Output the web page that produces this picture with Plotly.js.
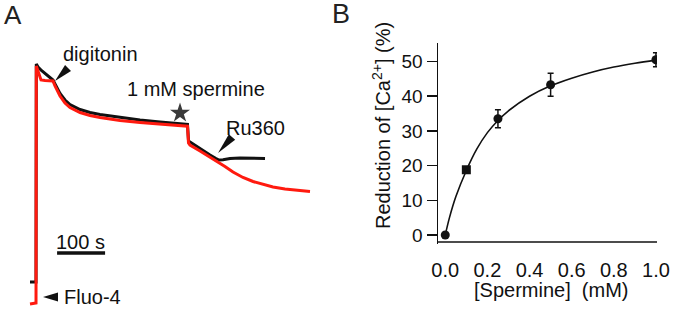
<!DOCTYPE html>
<html>
<head>
<meta charset="utf-8">
<script src="https://cdn.plot.ly/plotly-3.0.1.min.js"></script>
<style>html,body{margin:0;padding:0;background:#fff}#chart{width:673px;height:312px}</style>
</head>
<body>
<div id="chart"></div>
<script>
// ---------- Panel A : Fluo-4 traces (time in s, fluorescence in a.u.) ----------
const timeBlack = [-10.4, 2.1, 2.7, 6.3, 14.6, 22.9, 31.3, 37.5, 41.7, 52.1, 62.5, 72.9, 93.8, 114.6, 135.4, 177.1, 218.8, 260.4, 291.7, 317.7, 319.8, 322.9, 343.8, 364.6, 377.1, 383.3, 391.7, 406.3, 427.1, 452.1, 479.2];
const fluoBlack = [8.4, 8.4, 95.6, 94.4, 92.8, 91.6, 90.4, 89.2, 87.6, 83.8, 81.2, 79.4, 77.4, 76.2, 75.4, 74.2, 73.2, 72.4, 71.8, 71.4, 64.8, 64.4, 61.8, 59.2, 57.8, 57.2, 57.3, 57.8, 58.0, 58.0, 57.8];
const timeRed = [-10.4, 2.1, 2.7, 12.5, 20.8, 37.5, 41.7, 52.1, 62.5, 72.9, 93.8, 114.6, 135.4, 177.1, 218.8, 260.4, 291.7, 317.7, 319.8, 322.9, 343.8, 364.6, 379.2, 395.8, 412.5, 433.3, 454.2, 475.0, 495.8, 520.8, 545.8, 572.9];
const fluoRed = [-0.4, 0, 94.8, 89.2, 89.0, 88.8, 86.8, 82.8, 80.0, 78.2, 76.2, 75.0, 74.2, 73.0, 72.2, 71.5, 71.0, 70.7, 64.0, 63.2, 60.8, 58.4, 56.6, 54.6, 52.4, 50.2, 48.6, 47.4, 46.4, 45.6, 45.0, 44.6];
const eventLabels = ["digitonin", "1 mM spermine", "Ru360", "Fluo-4"];
const scaleBarSeconds = 100;

// ---------- Panel B : dose response ----------
const spermine = [0, 0.1, 0.25, 0.5, 1.0];
const reduction = [0, 18.8, 33.5, 43.3, 50.5];
const reductionErr = [0, 0.8, 2.6, 3.3, 2.0];
const fitX = [0, 0.02, 0.05, 0.1, 0.15, 0.2, 0.25, 0.3, 0.4, 0.5, 0.6, 0.7, 0.8, 0.9, 1.0];
const fitY = [0, 5.0, 11.0, 18.6, 24.8, 29.5, 33.0, 35.8, 40.0, 43.0, 45.2, 47.0, 48.4, 49.5, 50.4];
const xTickVals = [0, 0.2, 0.4, 0.6, 0.8, 1.0];
const xTickText = ["0.0", "0.2", "0.4", "0.6", "0.8", "1.0"];
const yTickVals = [0, 10, 20, 30, 40, 50];

const W = 673, H = 312;
const FONT = "Liberation Sans, Arial, Helvetica, sans-serif";
const INK = "#111111";

// panel A axis geometry
const axA = {domain: [0, 340 / W], range: [-72.917, 635.417]};
const ayA = {domain: [0, 1], range: [-3.6, 121.2]};
const pxPerT = (axA.domain[1] - axA.domain[0]) * W / (axA.range[1] - axA.range[0]);
const pxPerF = (ayA.domain[1] - ayA.domain[0]) * H / (ayA.range[1] - ayA.range[0]);

// panel B axis geometry
const axB = {domain: [438 / W, 657 / W], range: [-0.0345, 1.005]};
const ayB = {domain: [1 - 244 / H, 1 - 43 / H], range: [-2.594, 55.33]};
const pxPerR = (ayB.domain[1] - ayB.domain[0]) * H / (ayB.range[1] - ayB.range[0]);
const xLineVal = ayB.range[0] + 2 / pxPerR;          // x-axis line, 2 px above the domain bottom
const xTickVal = xLineVal - 5 / pxPerR;              // centre of 10 px outward tick

// wedge-shaped pointer: tip in data units, base offset & half width in px
function wedge(tipT, tipF, dx, dy, hw) {
  const len = Math.hypot(dx, dy);
  const px = -dy / len * hw, py = dx / len * hw;
  const pts = [[0, 0], [dx + px, dy + py], [dx - px, dy - py]];
  const d = pts.map((p, i) => (i ? "L" : "M") + (tipT + p[0] / pxPerT).toFixed(3) + "," + (tipF - p[1] / pxPerF).toFixed(3)).join(" ") + " Z";
  return {type: "path", xref: "x", yref: "y", path: d, fillcolor: INK, line: {width: 0}, layer: "above"};
}

const traces = [
  {x: timeBlack, y: fluoBlack, xaxis: "x", yaxis: "y", mode: "lines", line: {color: INK, width: 3}, hoverinfo: "skip"},
  {x: timeRed, y: fluoRed, xaxis: "x", yaxis: "y", mode: "lines", line: {color: "#ff1a0f", width: 3}, hoverinfo: "skip"},
  {x: [302.1], y: [76], xaxis: "x", yaxis: "y", mode: "markers", marker: {symbol: "star", size: 15, color: "#3a3a3a"}, hoverinfo: "skip"},
  // x axis line and ticks of panel B (on the x2 scale)
  {x: [axB.range[0], axB.range[1]], y: [xLineVal, xLineVal], xaxis: "x2", yaxis: "y2", mode: "lines", line: {color: INK, width: 1.5}, hoverinfo: "skip"},
  {x: xTickVals, y: xTickVals.map(() => xTickVal), xaxis: "x2", yaxis: "y2", mode: "markers", cliponaxis: false,
   marker: {symbol: "line-ns", size: 10, color: INK, line: {color: INK, width: 1.5}}, hoverinfo: "skip"},
  {x: fitX, y: fitY, xaxis: "x2", yaxis: "y2", mode: "lines", line: {color: INK, width: 1.6, shape: "spline"}, hoverinfo: "skip"},
  {x: spermine, y: reduction, xaxis: "x2", yaxis: "y2", mode: "markers",
   marker: {symbol: ["circle", "square", "circle", "circle", "circle"], size: 9, color: INK},
   error_y: {type: "data", array: reductionErr, visible: true, color: INK, thickness: 1.5, width: 3}}
];

const annFont = {family: FONT, size: 20, color: INK};
function label(text, xref, yref, x, y, extra) {
  return Object.assign({text: text, xref: xref, yref: yref, x: x, y: y, xanchor: "center", yanchor: "middle", showarrow: false, font: annFont}, extra || {});
}
const blankAxis = {showline: false, showgrid: false, zeroline: false, ticks: "", showticklabels: false, fixedrange: true};

const layout = {
  width: W, height: H,
  margin: {l: 0, r: 0, t: 0, b: 0},
  paper_bgcolor: "#fff", plot_bgcolor: "rgba(0,0,0,0)",
  showlegend: false,
  xaxis: Object.assign({domain: axA.domain, range: axA.range, anchor: "y"}, blankAxis),
  yaxis: Object.assign({domain: ayA.domain, range: ayA.range, anchor: "x"}, blankAxis),
  xaxis2: {domain: axB.domain, range: axB.range, anchor: "y2",
    showline: false, ticks: "outside", ticklen: 8, tickwidth: 1.5, tickcolor: "rgba(0,0,0,0)",
    tickvals: xTickVals, ticktext: xTickText, showgrid: false, zeroline: false,
    tickfont: {family: FONT, size: 20, color: INK}},
  yaxis2: {domain: ayB.domain, range: ayB.range, anchor: "x2",
    showline: true, linecolor: INK, linewidth: 1.5, ticks: "outside", ticklen: 10, tickwidth: 1.5, tickcolor: INK,
    tickvals: yTickVals, showgrid: false, zeroline: false,
    tickfont: {family: FONT, size: 19, color: INK}},
  shapes: [
    {type: "line", xref: "x", yref: "y", x0: 46, x1: 46 + scaleBarSeconds, y0: 20, y1: 20, line: {color: INK, width: 3.5}},
    wedge(41.7, 88.8, 13, -13, 4.2),
    wedge(381.3, 60, 14, -16, 4.2),
    wedge(16.7, 2.4, 15, 0, 4.5)
  ],
  annotations: [
    label("A", "paper", "paper", 13 / W, 1 - 15 / H, {font: {family: FONT, size: 26, color: "#222"}}),
    label("B", "paper", "paper", 341 / W, 1 - 14 / H, {font: {family: FONT, size: 27, color: "#222"}}),
    label(eventLabels[0], "x", "y", 136.5, 99.7),
    label(eventLabels[1], "x", "y", 335.8, 85.6),
    label(eventLabels[2], "x", "y", 460.4, 70),
    label(eventLabels[3], "x", "y", 119.8, 2.3),
    label(scaleBarSeconds + " s", "x", "y", 93.75, 24.4),
    label("Reduction of [Ca<sup>2+</sup>] (%)", "paper", "paper", 381 / W, 1 - 126 / H, {textangle: -90}),
    label("[Spermine]\u00a0\u00a0(mM)", "paper", "paper", 551 / W, 1 - 290 / H)
  ]
};

Plotly.newPlot("chart", traces, layout, {staticPlot: true, displayModeBar: false});
</script>
</body>
</html>
